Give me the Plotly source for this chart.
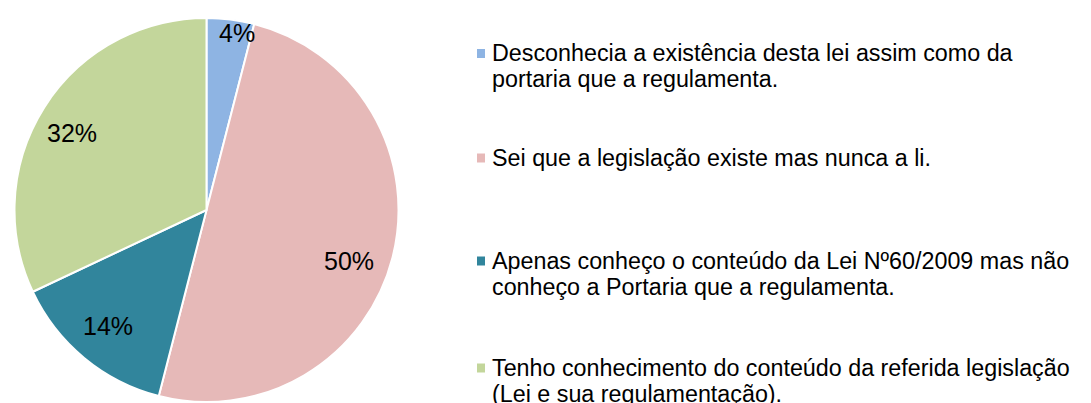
import math
import plotly.graph_objects as go

labels = [
    "Desconhecia a existência desta lei assim como da<br>portaria que a regulamenta.",
    "Sei que a legislação existe mas nunca a li.",
    "Apenas conheço o conteúdo da Lei Nº60/2009 mas não<br>conheço a Portaria que a regulamenta.",
    "Tenho conhecimento do conteúdo da referida legislação<br>(Lei e sua regulamentação).",
]
values = [4, 50, 14, 32]
colors = ["#8EB4E3", "#E6B9B8", "#31859C", "#C3D69B"]

# layout helpers (pixels of the figure)
W, H = 1091, 403
M_T, M_B = 10, 9
cx, cy, R = 198.5, 202, 192
label_radius = [0.935, 0.79, 0.79, 0.807]  # fraction of radius for % labels
label_shift = [2.6, 5.3, 0.7, -2.6]        # degrees off the slice mid angle
legend_top = [45.5, 150, 253, 360]         # centre of first line of each entry
line_gap = 25.5
FONT = "Liberation Sans, Arial"


def px_x(x):
    return x / W


def px_y(y):
    return 1 - (y - M_T) / (H - M_T - M_B)


fig = go.Figure(
    go.Pie(
        labels=labels,
        values=values,
        sort=False,
        direction="clockwise",
        rotation=0,
        marker=dict(colors=colors, line=dict(color="white", width=2)),
        textinfo="none",
        domain=dict(x=[px_x(cx - R), px_x(cx + R)], y=[0, 1]),
        showlegend=False,
        hoverinfo="label+percent",
    )
)

# percentage labels placed along each slice's mid angle
total = sum(values)
cum = 0
for v, f, s in zip(values, label_radius, label_shift):
    mid = (cum + v / 2) / total * 2 * math.pi + math.radians(s)
    cum += v
    x = cx + R * f * math.sin(mid)
    y = cy - R * f * math.cos(mid)
    fig.add_annotation(
        x=px_x(x), y=px_y(y), xref="paper", yref="paper",
        text=f"{round(v / total * 100)}%", showarrow=False,
        xanchor="center", yanchor="middle",
        font=dict(family=FONT, size=25, color="black"),
    )

# legend drawn by hand so the text can wrap like the original
for lab, col, y0 in zip(labels, colors, legend_top):
    fig.add_shape(
        type="rect", xref="paper", yref="paper",
        x0=px_x(469), x1=px_x(477), y0=px_y(y0 + 4.5), y1=px_y(y0 - 4.5),
        fillcolor=col, line_width=0,
    )
    for i, line in enumerate(lab.split("<br>")):
        fig.add_annotation(
            x=px_x(482), y=px_y(y0 + i * line_gap), xref="paper", yref="paper",
            text=line, showarrow=False, xanchor="left", yanchor="middle",
            font=dict(family=FONT, size=23.3, color="black"),
        )

fig.update_layout(
    width=W, height=H,
    margin=dict(l=0, r=0, t=M_T, b=M_B),
    paper_bgcolor="white",
    plot_bgcolor="white",
)

fig.write_html("out.html")
